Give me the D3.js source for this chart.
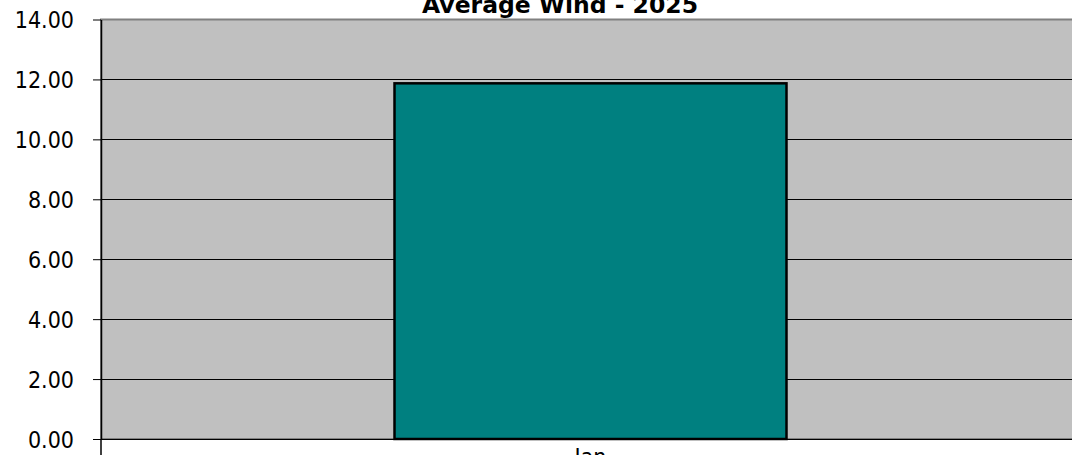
<!DOCTYPE html>
<html><head><meta charset="utf-8">
<script src="https://cdn.jsdelivr.net/npm/d3@7"></script>
<style>body{margin:0;background:#fff;overflow:hidden}svg{display:block}</style>
</head><body>
<script>
const categories = ["Jan"];
const values = [11.87];
const yTicks = [0, 2, 4, 6, 8, 10, 12, 14];
const title = "Average Wind - 2025";

(function () {
const W = 1072, H = 455;
const svg = d3.select("body").append("svg").attr("width", W).attr("height", H);
const pLeft = 101, pRight = 1080, pTop = 19.5, pBottom = 439;
const font = "'DejaVu Sans Condensed', 'DejaVu Sans', sans-serif";

const y = d3.scaleLinear().domain([0, 14]).range([pBottom, pTop]);
const x = d3.scaleBand().domain(categories).range([pLeft, pRight]).paddingInner(0).paddingOuter(0.3);

svg.append("rect").attr("x", pLeft).attr("y", pTop).attr("width", pRight - pLeft).attr("height", pBottom - pTop)
  .attr("fill", "#c0c0c0").attr("stroke", "#808080").attr("stroke-width", 2);

svg.append("g").selectAll("line").data(yTicks.filter(d => d > 0 && d < 14)).join("line")
  .attr("x1", pLeft).attr("x2", pRight).attr("y1", d => Math.round(y(d)) + 0.5).attr("y2", d => Math.round(y(d)) + 0.5)
  .attr("stroke", "#000").attr("stroke-width", 1);

const bw = x.bandwidth();
svg.append("g").selectAll("rect").data(values).join("rect")
  .attr("x", (d, i) => x(categories[i]) + (bw - 392) / 2)
  .attr("y", d => y(d)).attr("width", 392).attr("height", d => pBottom - y(d))
  .attr("fill", "#008080").attr("stroke", "#000").attr("stroke-width", 2.5);

const yAxis = d3.axisLeft(y).tickValues(yTicks).tickFormat(d3.format(".2f")).tickSize(8).tickSizeOuter(0);
const ga = svg.append("g").attr("transform", `translate(${pLeft},0)`).call(yAxis);
ga.select(".domain").attr("stroke", "#000").attr("stroke-width", 1.5);
ga.selectAll(".tick line").attr("stroke", "#000");
ga.selectAll(".tick text").attr("font-family", font).attr("font-size", 23)
  .attr("fill", "#000").attr("x", -27).attr("dy", "0.36em");
svg.append("line").attr("x1", pLeft).attr("x2", pLeft).attr("y1", pBottom).attr("y2", H)
  .attr("stroke", "#000").attr("stroke-width", 1.5);
svg.append("line").attr("x1", pLeft).attr("x2", pRight).attr("y1", pBottom + 0.5).attr("y2", pBottom + 0.5)
  .attr("stroke", "#000").attr("stroke-width", 1);

svg.append("g").selectAll("text").data(categories).join("text")
  .attr("x", d => x(d) + bw / 2).attr("y", 465).attr("text-anchor", "middle")
  .attr("font-family", font).attr("font-size", 23).text(d => d);

svg.append("text").attr("x", 560).attr("y", 13).attr("text-anchor", "middle")
  .attr("font-family", "'DejaVu Sans', Verdana, sans-serif").attr("font-weight", "bold").attr("font-size", 23.5)
  .text(title);
})();
</script>
</body></html>
